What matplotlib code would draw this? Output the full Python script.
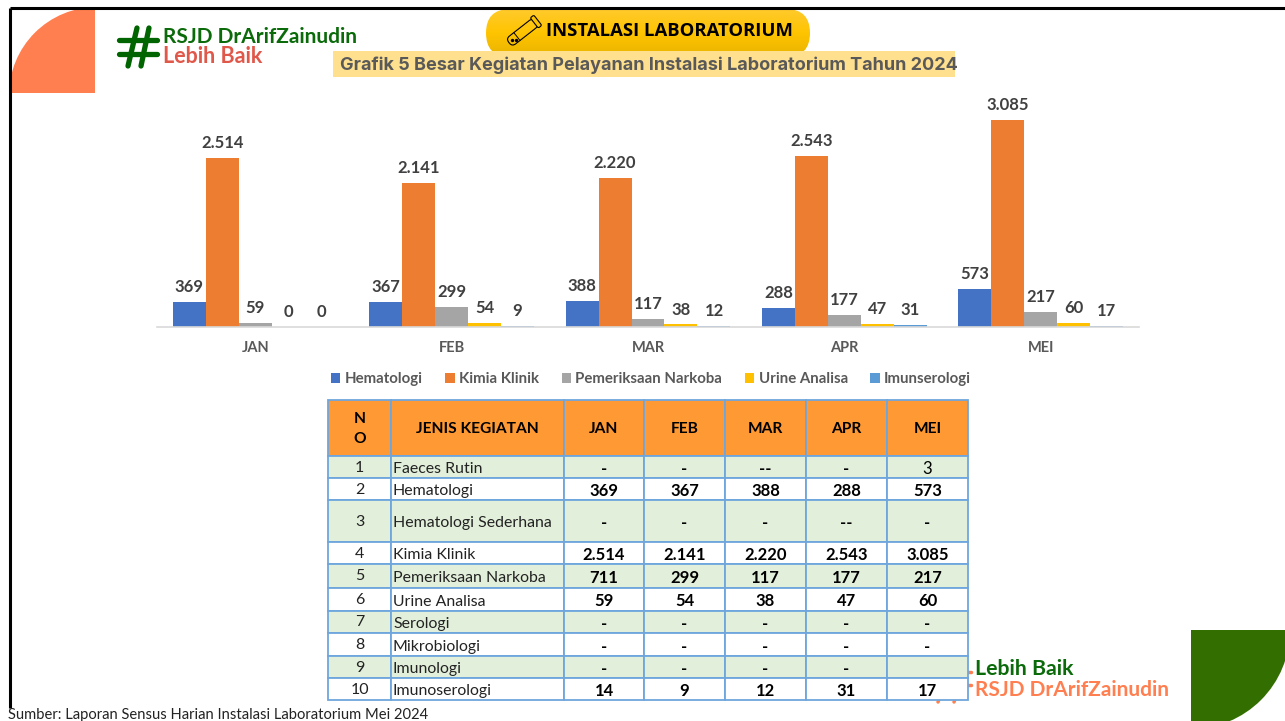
import matplotlib
matplotlib.use('Agg')
import matplotlib.pyplot as plt
import numpy as np
from matplotlib.patches import Rectangle, Circle, FancyBboxPatch
from matplotlib.transforms import Affine2D

plt.rcParams['font.family'] = 'Lato'

months = ['JAN', 'FEB', 'MAR', 'APR', 'MEI']
series_names = ['Hematologi', 'Kimia Klinik', 'Pemeriksaan Narkoba', 'Urine Analisa', 'Imunserologi']
hematologi = [369, 367, 388, 288, 573]
kimia_klinik = [2514, 2141, 2220, 2543, 3085]
narkoba = [59, 299, 117, 177, 217]
urine = [0, 54, 38, 47, 60]
imunserologi = [0, 9, 12, 31, 17]
series_colors = ['#4472c4', '#ed7d31', '#a5a5a5', '#ffc000', '#5b9bd5']

table_header = ['N\nO', 'JENIS KEGIATAN', 'JAN', 'FEB', 'MAR', 'APR', 'MEI']
table_no = ['1', '2', '3', '4', '5', '6', '7', '8', '9', '10']
table_names = ['Faeces Rutin', 'Hematologi', 'Hematologi Sederhana', 'Kimia Klinik', 'Pemeriksaan Narkoba',
               'Urine Analisa', 'Serologi', 'Mikrobiologi', 'Imunologi', 'Imunoserologi']
table_values = [['-', '-', '--', '-', '3'],
                ['369', '367', '388', '288', '573'],
                ['-', '-', '-', '--', '-'],
                ['2.514', '2.141', '2.220', '2.543', '3.085'],
                ['711', '299', '117', '177', '217'],
                ['59', '54', '38', '47', '60'],
                ['-', '-', '-', '-', '-'],
                ['-', '-', '-', '-', '-'],
                ['-', '-', '-', '-', ''],
                ['14', '9', '12', '31', '17']]

W, H = 1285, 721

def dotted(v):
    return f'{v:,}'.replace(',', '.')

fig = plt.figure(figsize=(W / 100, H / 100), dpi=100, facecolor='white')

# page layer, in pixels of the slide
page = fig.add_axes([0, 0, 1, 1])
page.set_xlim(0, W)
page.set_ylim(H, 0)
page.axis('off')

# corner shapes
clip = Rectangle((11, 9), 84, 84, transform=page.transData)
corner = Circle((97, 95), 88, fc='#ff7f50', ec='none')
page.add_patch(corner)
corner.set_clip_path(clip)
clip = Rectangle((1191, 630), 94, 91, transform=page.transData)
corner = Circle((1191, 630), 99, fc='#336f00', ec='none')
page.add_patch(corner)
corner.set_clip_path(clip)

# slide border
page.plot([10, 10], [708, 8], color='black', lw=2.2, solid_capstyle='butt')
page.plot([10, W], [8, 8], color='black', lw=2.2, solid_capstyle='butt')

# hash logo top left
hash_green = '#006400'
for xs, ys in [([119, 157], [40, 40]), ([119, 157], [54, 54]), ([128, 137], [66, 28]), ([141, 149], [66, 28])]:
    page.plot(xs, ys, color=hash_green, lw=3.8, solid_capstyle='round')
page.text(163, 37, 'RSJD DrArifZainudin', color='#0b6b0b', fontsize=15, fontweight='bold', va='center', ha='left')
page.text(163, 56.5, 'Lebih Baik', color='#e0584a', fontsize=15.5, fontweight='bold', va='center', ha='left')

# header pill with gradient
pill = FancyBboxPatch((486, 9), 324, 48, boxstyle='round,pad=0,rounding_size=24', fc='none', ec='none')
page.add_patch(pill)
grad = np.linspace(0, 1, 50).reshape(-1, 1)
cmap = matplotlib.colors.LinearSegmentedColormap.from_list('pill', ['#ffca2c', '#ffc400', '#e9b400'])
im = page.imshow(grad, extent=(486, 810, 57, 9), cmap=cmap, aspect='auto', zorder=1)
im.set_clip_path(pill)
page.set_xlim(0, W)
page.set_ylim(H, 0)
page.text(669.5, 31.5, 'INSTALASI LABORATORIUM', color='black', fontsize=13.3, fontweight='bold', va='center',
          ha='center', family='Open Sans', zorder=3)

# test tube icon
rot = Affine2D().rotate_deg_around(524, 31, -38) + page.transData
page.add_patch(FancyBboxPatch((505, 26), 34, 10, boxstyle='round,pad=0,rounding_size=4.5', fc='none', ec='black',
                              lw=0.8, transform=rot, zorder=3))
page.add_patch(FancyBboxPatch((537, 24.5), 4.5, 13, boxstyle='round,pad=0,rounding_size=1.5', fc='#ffc400', ec='black',
                              lw=0.8, transform=rot, zorder=3))
page.plot([515, 515], [26, 36], color='black', lw=0.7, transform=rot, zorder=3)
page.plot([509, 512], [31, 33], 'o', color='black', ms=1.4, transform=rot, zorder=3)

# title band
page.add_patch(Rectangle((333, 51), 622, 26, fc='#ffe08f', ec='none', zorder=2))
page.text(648.5, 65, 'Grafik 5 Besar Kegiatan Pelayanan Instalasi Laboratorium Tahun 2024', color='#595959',
          fontsize=13, fontweight='bold', va='center', ha='center', family='Inter', zorder=3)

# bar chart
ax = fig.add_axes([157 / W, 1 - 327 / H, 982 / W, 227 / H])
ax.patch.set_alpha(0)
x = np.arange(len(months))
width = 0.168
all_series = [hematologi, kimia_klinik, narkoba, urine, imunserologi]
for i, vals in enumerate(all_series):
    bars = ax.bar(x + (i - 2) * width, vals, width, color=series_colors[i], label=series_names[i])
    ax.bar_label(bars, labels=[dotted(v) for v in vals], padding=5, fontsize=12, fontweight='bold', color='#404040')
ax.set_xlim(-0.5, 4.5)
ax.set_ylim(0, 3383)
ax.set_yticks([])
for s in ['top', 'left', 'right']:
    ax.spines[s].set_visible(False)
ax.spines['bottom'].set_color('#d9d9d9')
ax.spines['bottom'].set_linewidth(1.2)
ax.set_xticks(x, months, fontweight='bold', fontsize=10.5, color='#595959')
ax.tick_params(axis='x', length=0, pad=10)
leg = fig.legend(loc='center', bbox_to_anchor=(651 / W, 1 - 379 / H), ncol=5, frameon=False,
                 handlelength=0.62, handleheight=0.62, handletextpad=0.3, columnspacing=1.5,
                 prop={'weight': 'bold', 'size': 10.8})
for t in leg.get_texts():
    t.set_color('#595959')

# bottom right logo, partly hidden by the table
for xs, ys in [([945, 971], [672, 672]), ([945, 971], [685, 685]), ([950, 938], [665, 702]), ([966, 954], [665, 702])]:
    page.plot(xs, ys, color='#ff7f50', lw=2.5, solid_capstyle='round')
page.text(975, 669, 'Lebih Baik', color='#0b6b0b', fontsize=15.3, fontweight='bold', va='center', ha='left')
page.text(975, 690, 'RSJD DrArifZainudin', color='#ff7f50', fontsize=15, fontweight='bold', va='center', ha='left')

# table
col_edges = [328, 391, 564, 644, 725, 806, 887, 968]
row_edges = [400, 456, 478, 500, 542, 564, 588, 611, 633, 656, 678, 700]
line_col = '#6ea6dd'
for c in range(7):
    page.add_patch(Rectangle((col_edges[c], row_edges[0]), col_edges[c + 1] - col_edges[c], row_edges[1] - row_edges[0],
                             fc='#ff9933', ec=line_col, lw=1.3, zorder=4))
    page.text((col_edges[c] + col_edges[c + 1]) / 2, (row_edges[0] + row_edges[1]) / 2 + 1, table_header[c],
              fontsize=11.2, fontweight='bold', ha='center', va='center', color='black', zorder=5, linespacing=1.5)
for r in range(10):
    top, bot = row_edges[r + 1], row_edges[r + 2]
    fc = '#e2efda' if r % 2 == 0 else 'white'
    for c in range(7):
        page.add_patch(Rectangle((col_edges[c], top), col_edges[c + 1] - col_edges[c], bot - top, fc=fc, ec=line_col,
                                 lw=1.3, zorder=4))
    mid = (top + bot) / 2
    page.text(359.5, mid + 0.5, table_no[r], fontsize=11.5, ha='center', va='center', color='#222222', zorder=5)
    page.text(393, mid + 2, table_names[r], fontsize=11.4, ha='left', va='center', color='#222222', zorder=5)
    for c, val in enumerate(table_values[r]):
        page.text((col_edges[c + 2] + col_edges[c + 3]) / 2, mid + 2, val, fontsize=12,
                  fontweight='normal' if val == '3' else 'bold',
                  ha='center', va='center', color='black', zorder=5)

page.text(8, 715, 'Sumber: Laporan Sensus Harian Instalasi Laboratorium Mei 2024', fontsize=10.6, color='#222222',
          ha='left', va='center', zorder=5)

fig.savefig('out.png', dpi=100)
